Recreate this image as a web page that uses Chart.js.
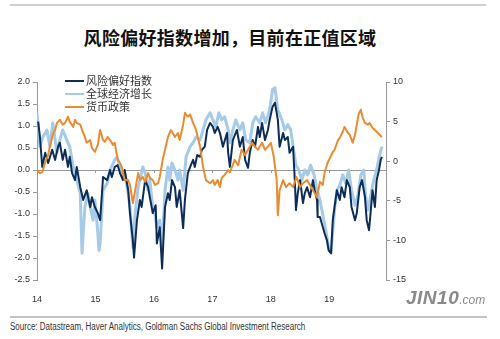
<!DOCTYPE html>
<html>
<head>
<meta charset="utf-8">
<script src="https://cdn.jsdelivr.net/npm/chart.js@4/dist/chart.umd.min.js"></script>
<style>
  html, body { margin: 0; padding: 0; background: #fff; }
  body { width: 500px; height: 339px; position: relative; overflow: hidden; font-family: "Liberation Sans", Arial, sans-serif; }
  .rule { position: absolute; height: 2px; background: #cfcfcf; }
  #title { position: absolute; left: 0; width: 460px; top: 26px; text-align: center; font-family: "Noto Sans CJK SC", sans-serif; font-weight: 700; font-size: 18px; line-height: 22px; color: #111; letter-spacing: 0.3px; }
  #wrap { position: absolute; left: 0; top: 60px; width: 500px; height: 245px; }
  #legend { position: absolute; left: 65px; top: 74px; font-family: "Noto Sans CJK SC", sans-serif; font-size: 11px; color: #333; line-height: 13px; }
  #legend div { display: flex; align-items: center; height: 13px; }
  #legend span.sw { display: inline-block; width: 19px; height: 2px; margin-right: 2px; }
  #source { position: absolute; left: 10px; top: 321px; font-family: "Liberation Sans Narrow", "Arial Narrow", "Liberation Sans", sans-serif; font-size: 10px; color: #333; white-space: nowrap; transform: scaleX(0.8); transform-origin: 0 0; }
  #wm { position: absolute; left: 406px; top: 287px; color: #8a8a8a; font-family: "Liberation Sans", Arial, sans-serif; font-style: italic; font-weight: 700; white-space: nowrap; }
  #wm .big { font-size: 19px; letter-spacing: 0.5px; }
  #wm .small { font-size: 12px; font-weight: 400; }
</style>
</head>
<body>
<div class="rule" style="left:10px; top:4px; width:476px;"></div>
<div id="title">风险偏好指数增加，目前在正值区域</div>
<div id="wrap"><canvas id="c" width="500" height="245"></canvas></div>
<div id="legend"></div>
<div class="rule" style="left:10px; top:316px; width:477px; background:#c4c4c4;"></div>
<div id="source">Source: Datastream, Haver Analytics, Goldman Sachs Global Investment Research</div>
<div id="wm"><span class="big">JIN10</span><span class="small">.com</span></div>
<script>
// ---- data (x = decimal year) ----
const seriesNames = ["风险偏好指数", "全球经济增长", "货币政策"];
const yearTicks = [2014, 2015, 2016, 2017, 2018, 2019];
const leftTicks = [-2.5, -2.0, -1.5, -1.0, -0.5, 0.0, 0.5, 1.0, 1.5, 2.0];
const rightTicks = [-15, -10, -5, 0, 5, 10];

const riskT = [2014.02,2014.05,2014.09,2014.14,2014.19,2014.26,2014.31,2014.36,2014.39,2014.44,2014.48,2014.53,2014.56,2014.60,2014.65,2014.68,2014.74,2014.79,2014.82,2014.85,2014.91,2014.94,2014.99,
  2015.04,2015.08,2015.13,2015.20,2015.25,2015.28,2015.33,2015.38,2015.42,2015.47,2015.50,2015.56,2015.59,2015.64,2015.66,2015.71,2015.76,2015.79,2015.85,2015.90,2015.93,2015.98,
  2016.03,2016.05,2016.10,2016.14,2016.19,2016.24,2016.27,2016.31,2016.36,2016.39,2016.44,2016.50,2016.53,2016.58,2016.62,2016.67,2016.70,2016.74,2016.79,2016.82,2016.87,2016.91,2016.96,
  2017.01,2017.04,2017.09,2017.13,2017.18,2017.25,2017.27,2017.30,2017.35,2017.42,2017.47,2017.52,2017.56,2017.61,2017.64,2017.69,2017.73,2017.78,2017.81,2017.85,2017.90,2017.95,2017.98,
  2018.03,2018.07,2018.12,2018.15,2018.21,2018.24,2018.29,2018.32,2018.38,2018.41,2018.43,2018.46,2018.50,2018.55,2018.58,2018.62,2018.67,2018.72,2018.75,2018.79,2018.80,2018.84,2018.89,2018.92,2018.96,2018.99,
  2019.03,2019.06,2019.09,2019.13,2019.18,2019.21,2019.26,2019.30,2019.35,2019.38,2019.44,2019.47,2019.52,2019.56,2019.61,2019.64,2019.68,2019.71,2019.74,2019.78,2019.81,2019.85,2019.88,2019.90];
const riskV = [1.10,0.75,0.07,0.39,0.16,0.46,0.23,0.53,0.62,0.23,0.46,0.07,0.30,-0.07,-0.23,0.07,-0.39,-0.68,-0.57,-0.46,-0.84,-0.62,-0.84,
  -0.98,-1.14,-0.16,-0.23,0.00,-0.16,0.07,0.11,-0.07,-0.23,0.00,-0.46,-0.98,-1.60,-1.99,-1.14,-0.68,-0.84,-0.23,-0.39,-0.62,-0.98,
  -0.80,-1.67,-1.30,-2.24,-0.84,-0.53,-0.68,-0.23,-0.39,-0.84,-0.46,-1.32,-0.68,-0.07,0.07,0.23,0.07,0.34,0.30,0.46,0.53,0.91,1.07,
  0.98,0.84,0.98,0.84,0.53,0.84,0.39,0.07,0.68,0.91,0.53,0.75,0.23,0.05,0.39,0.68,0.53,0.98,0.75,1.07,0.68,0.91,1.14,
  1.44,1.53,1.14,0.53,0.84,0.68,0.75,0.39,0.53,-0.23,-0.91,-0.53,-0.23,-0.75,-0.53,-0.39,-0.62,-0.23,-0.46,-0.68,-1.07,-1.07,-1.30,-1.44,-1.60,-1.83,
  -1.89,-1.14,-0.84,-0.46,-0.68,-0.39,-0.62,-0.23,-0.39,-0.84,-1.14,-0.98,-0.39,-0.23,-0.62,-1.14,-1.37,-0.91,-0.46,-0.84,-0.23,0.00,0.23,0.30];

const growthT = [2014.00,2014.05,2014.10,2014.17,2014.22,2014.27,2014.34,2014.39,2014.44,2014.51,2014.56,2014.62,2014.68,2014.74,2014.77,2014.82,2014.87,2014.91,2014.96,2014.99,
  2015.03,2015.06,2015.08,2015.13,2015.20,2015.25,2015.33,2015.37,2015.42,2015.47,2015.50,2015.56,2015.59,2015.64,2015.68,2015.73,2015.76,2015.81,2015.85,2015.90,2015.93,2015.98,
  2016.02,2016.05,2016.10,2016.14,2016.19,2016.24,2016.27,2016.31,2016.36,2016.41,2016.44,2016.50,2016.55,2016.62,2016.67,2016.72,2016.79,2016.84,2016.89,2016.96,
  2017.01,2017.06,2017.11,2017.16,2017.21,2017.27,2017.30,2017.35,2017.40,2017.47,2017.52,2017.57,2017.64,2017.69,2017.74,2017.81,2017.86,2017.91,2017.98,
  2018.03,2018.07,2018.12,2018.19,2018.24,2018.29,2018.34,2018.39,2018.43,2018.48,2018.53,2018.58,2018.63,2018.68,2018.74,2018.79,2018.84,2018.89,2018.94,2018.99,
  2019.03,2019.08,2019.13,2019.18,2019.23,2019.28,2019.33,2019.38,2019.44,2019.49,2019.54,2019.59,2019.62,2019.66,2019.71,2019.76,2019.81,2019.86,2019.90];
const growthV = [1.30,0.53,0.75,0.91,0.53,1.07,0.39,0.68,0.91,0.68,0.53,0.07,-0.23,-0.53,-1.89,-0.84,-0.53,-0.84,-1.14,-0.68,
  -1.26,-1.83,-1.67,-0.46,-0.30,0.00,0.23,0.30,0.07,-0.16,-0.07,-0.53,-0.84,-1.76,-0.98,-0.39,-0.23,0.07,-0.07,-0.46,-0.23,-0.84,
  -1.03,-1.30,-1.14,-1.76,-0.46,0.07,-0.23,0.16,0.00,-0.23,0.00,-0.46,0.30,0.53,0.62,0.75,0.68,0.91,1.14,1.30,
  1.14,0.98,1.30,1.14,1.21,0.91,0.62,0.91,1.14,0.91,1.07,0.68,0.62,1.07,1.21,1.07,1.30,1.07,1.37,
  1.83,1.87,1.37,1.14,0.91,1.03,0.91,0.46,0.11,0.00,-0.23,0.00,-0.11,0.11,-0.11,-0.46,-0.68,-1.03,-1.37,-1.78,
  -1.89,-1.03,-0.46,-0.34,-0.11,-0.30,0.00,-0.46,-0.80,-0.57,-0.11,0.00,-0.57,-0.91,-0.57,-0.23,0.00,0.34,0.53];

const policyT = [2014.00,2014.05,2014.09,2014.14,2014.19,2014.22,2014.27,2014.31,2014.34,2014.39,2014.44,2014.48,2014.53,2014.56,2014.62,2014.65,2014.68,2014.74,2014.77,2014.82,2014.85,2014.91,2014.94,2014.99,
  2015.04,2015.08,2015.13,2015.16,2015.21,2015.25,2015.30,2015.33,2015.38,2015.42,2015.45,2015.50,2015.56,2015.59,2015.64,2015.68,2015.73,2015.76,2015.81,2015.85,2015.90,2015.93,2015.98,
  2016.02,2016.07,2016.10,2016.15,2016.19,2016.24,2016.29,2016.36,2016.41,2016.44,2016.50,2016.53,2016.58,2016.62,2016.67,2016.72,2016.79,2016.84,2016.89,2016.96,
  2017.01,2017.04,2017.09,2017.13,2017.16,2017.21,2017.27,2017.30,2017.35,2017.38,2017.44,2017.50,2017.56,2017.61,2017.68,2017.73,2017.78,2017.85,2017.90,2017.95,
  2018.00,2018.05,2018.10,2018.12,2018.15,2018.21,2018.26,2018.32,2018.38,2018.44,2018.50,2018.55,2018.62,2018.67,2018.72,2018.79,2018.84,2018.89,2018.92,2018.97,
  2019.01,2019.06,2019.09,2019.15,2019.18,2019.23,2019.26,2019.32,2019.35,2019.40,2019.44,2019.47,2019.50,2019.54,2019.57,2019.61,2019.66,2019.69,2019.74,2019.78,2019.83,2019.86,2019.90];
const policyV = [0.00,-0.07,-0.05,0.18,0.34,0.53,0.80,0.91,1.07,1.14,1.03,1.07,1.21,1.10,0.98,1.14,1.07,1.03,0.91,0.75,0.62,0.68,0.50,0.41,
  0.57,0.91,0.68,0.64,0.75,0.68,0.57,0.62,0.23,0.16,0.07,-0.23,-0.23,-0.34,-0.75,-0.46,-0.07,-0.23,-0.16,-0.27,-0.07,-0.18,-0.23,
  -0.34,-0.30,-0.16,0.23,0.46,0.75,0.91,0.75,0.84,0.68,1.03,1.30,1.21,1.26,1.07,0.91,0.53,0.07,-0.23,-0.30,
  -0.23,-0.34,-0.23,-0.39,-0.18,-0.11,0.00,-0.05,0.11,0.23,0.11,0.46,0.34,0.46,0.62,0.53,0.46,0.62,0.46,0.53,
  0.62,0.30,-0.23,-1.03,-0.46,-0.23,-0.39,-0.30,-0.39,-0.16,-0.39,-0.30,-0.23,-0.34,-0.46,-0.62,-0.27,-0.34,-0.05,0.16,
  0.27,0.41,0.46,0.68,0.73,0.87,0.98,0.84,0.80,0.62,0.80,1.03,1.26,1.37,1.19,1.07,1.03,1.07,0.96,0.91,0.84,0.80,0.75];

const colors = { risk: "#0c2d58", growth: "#a6cbe8", policy: "#e98b2e" };

// ---- legend ----
const legend = document.getElementById("legend");
[[seriesNames[0], colors.risk], [seriesNames[1], colors.growth], [seriesNames[2], colors.policy]].forEach(([n, c]) => {
  const row = document.createElement("div");
  row.innerHTML = '<span class="sw" style="background:' + c + '"></span><span>' + n + '</span>';
  legend.appendChild(row);
});

const pts = (t, v) => t.map((x, i) => ({ x: x, y: v[i] }));

const yearTickMarks = {
  id: "yearTickMarks",
  afterDatasetsDraw(chart) {
    const xs = chart.scales.x, ys = chart.scales.y, ctx = chart.ctx;
    const y0 = ys.getPixelForValue(0);
    ctx.save();
    ctx.strokeStyle = "#999";
    ctx.lineWidth = 1;
    yearTicks.forEach(v => {
      const px = Math.round(xs.getPixelForValue(v)) + 0.5;
      ctx.beginPath(); ctx.moveTo(px, y0); ctx.lineTo(px, y0 + 3); ctx.stroke();
    });
    ctx.restore();
  }
};

const tickFont = { family: "'Liberation Sans', Arial, sans-serif", size: 9 };

new Chart(document.getElementById("c"), {
  type: "line",
  data: {
    datasets: [
      { label: seriesNames[2], data: pts(policyT, policyV), borderColor: colors.policy, borderWidth: 2, pointRadius: 0, tension: 0, yAxisID: "y" },
      { label: seriesNames[0], data: pts(riskT, riskV), borderColor: colors.risk, borderWidth: 2, pointRadius: 0, tension: 0, yAxisID: "y" },
      { label: seriesNames[1], data: pts(growthT, growthV), borderColor: colors.growth, borderWidth: 3, pointRadius: 0, tension: 0, yAxisID: "y" }
    ]
  },
  options: {
    responsive: false,
    animation: false,
    devicePixelRatio: 1,
    layout: { padding: { top: 22, left: 0, right: 0, bottom: 0 } },
    plugins: { legend: { display: false }, tooltip: { enabled: false } },
    elements: { line: { borderJoinStyle: "round" } },
    scales: {
      x: {
        type: "linear", min: 2014, max: 2019.97, position: "bottom",
        afterBuildTicks: s => { s.ticks = yearTicks.map(v => ({ value: v })); },
        afterFit: s => { s.height = 25; },
        grid: { display: false }, border: { display: false },
        ticks: { font: tickFont, color: "#333", padding: 6, maxRotation: 0, autoSkip: false, callback: v => String(v).slice(2) }
      },
      y: {
        position: "left", min: -2.5, max: 2.0,
        afterBuildTicks: s => { s.ticks = leftTicks.map(v => ({ value: v })); },
        afterFit: s => { s.width = 37; },
        grid: { color: c => (c.tick && c.tick.value === 0 ? "#999" : "rgba(0,0,0,0)"), tickColor: "#999", tickLength: 4, lineWidth: 1 },
        border: { color: "#999" },
        ticks: { font: tickFont, color: "#333", padding: 3, callback: v => Number(v).toFixed(1) }
      },
      y2: {
        position: "right", min: -15, max: 10,
        afterBuildTicks: s => { s.ticks = rightTicks.map(v => ({ value: v })); },
        afterFit: s => { s.width = 114; },
        grid: { drawOnChartArea: false, tickColor: "#999", tickLength: 4 },
        border: { color: "#999" },
        ticks: { font: tickFont, color: "#333", padding: 3, callback: v => String(v) }
      }
    }
  },
  plugins: [yearTickMarks]
});
</script>
</body>
</html>
